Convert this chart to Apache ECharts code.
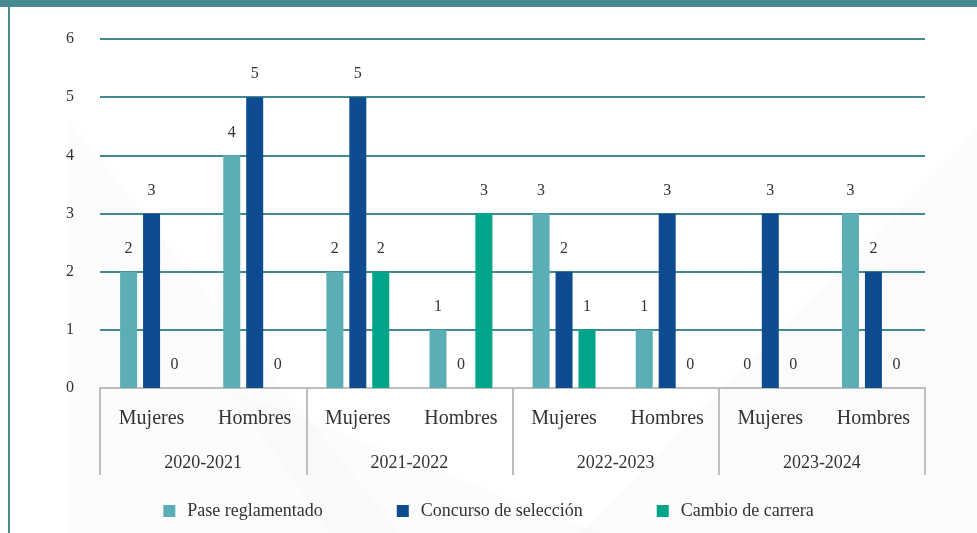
<!DOCTYPE html>
<html>
<head>
<meta charset="utf-8">
<script src="https://cdn.jsdelivr.net/npm/echarts@6/dist/echarts.min.js"></script>
<style>
html,body{margin:0;padding:0;background:#fff;}
#c{width:977px;height:533px;}
</style>
</head>
<body>
<div id="c"></div>
<script>
const genders = ['Mujeres','Hombres','Mujeres','Hombres','Mujeres','Hombres','Mujeres','Hombres'];
const years = ['2020-2021','2021-2022','2022-2023','2023-2024'];
const yTicks = [0,1,2,3,4,5,6];
const seriesNames = ['Pase reglamentado','Concurso de selección','Cambio de carrera'];
const pase = [2,4,2,1,3,1,0,3];
const concurso = [3,5,5,0,2,3,3,2];
const cambio = [0,0,2,3,1,0,0,0];

const colors = ['#5BAEB6','#0E4C8F','#00A489'];
const FONT = '"Liberation Serif", serif';

const chart = echarts.init(document.getElementById('c'));
const labelCfg = {show:true, position:'top', distance:15, color:'#333', fontSize:16, fontFamily:FONT};
const mk = (name, data, i) => ({
  name, type:'bar', data, xAxisIndex:0, barWidth:17, barGap:'35%',
  itemStyle:{color:colors[i]}, label:labelCfg
});

chart.setOption({
  backgroundColor:'#ffffff',
  animation:false,
  graphic:[
    {type:'polygon', silent:true, z:-10, shape:{points:[[68,120],[400,533],[68,533]]}, style:{fill:'rgba(0,0,0,0.012)'}},
    {type:'polygon', silent:true, z:-10, shape:{points:[[230,390],[600,533],[330,533]]}, style:{fill:'rgba(0,0,0,0.012)'}},
    {type:'polygon', silent:true, z:-10, shape:{points:[[977,130],[977,533],[580,533]]}, style:{fill:'rgba(0,0,0,0.015)'}},
    {type:'rect', silent:true, z:10, shape:{x:0,y:0,width:977,height:7}, style:{fill:'#478B90'}},
    {type:'rect', silent:true, z:10, shape:{x:8,y:0,width:2,height:533}, style:{fill:'#478B90'}}
  ],
  grid:{left:100, right:52, top:39, bottom:145},
  legend:{
    data:seriesNames, bottom:8, left:'center', icon:'rect', itemWidth:12, itemHeight:12, itemGap:74,
    textStyle:{fontSize:18, fontFamily:FONT, color:'#333', padding:[0,0,0,7]}
  },
  xAxis:[
    {type:'category', data:genders, position:'bottom',
     axisLine:{show:true, lineStyle:{color:'#bdbdbd', width:2}},
     axisTick:{show:false},
     axisLabel:{fontSize:20, fontFamily:FONT, color:'#333', margin:21}},
    {type:'category', data:years, position:'bottom',
     axisLine:{show:false},
     axisTick:{show:true, length:87, lineStyle:{color:'#bdbdbd', width:2}},
     axisLabel:{fontSize:18, fontFamily:FONT, color:'#333', margin:66}}
  ],
  yAxis:{type:'value', min:yTicks[0], max:yTicks[yTicks.length-1], interval:1,
    axisLine:{show:false}, axisTick:{show:false},
    axisLabel:{fontSize:16, fontFamily:FONT, color:'#333', margin:26},
    splitLine:{lineStyle:{color:'#3F8B8F', width:2}}},
  series:[mk(seriesNames[0], pase, 0), mk(seriesNames[1], concurso, 1), mk(seriesNames[2], cambio, 2)]
});
</script>
</body>
</html>
